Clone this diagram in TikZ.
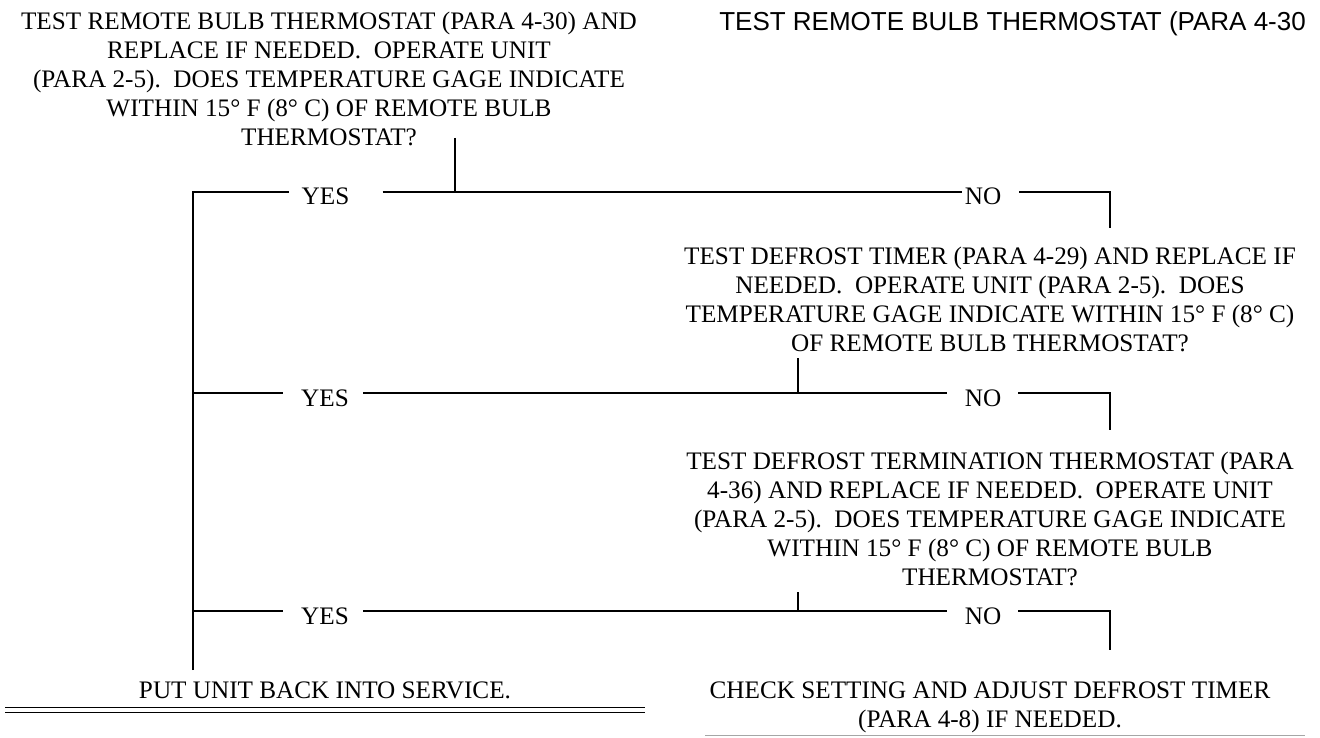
\documentclass[tikz,border=0pt]{standalone}
\usepackage{fontspec}
\setmainfont{Liberation Serif}
\newfontfamily\hdrfont{Liberation Sans}
\begin{document}
\begin{tikzpicture}[x=1pt,y=-1pt,
  txt/.style={font=\fontsize{25.2}{29}\selectfont, inner sep=0pt, align=center, anchor=north},
  lbl/.style={font=\fontsize{25.2}{29}\selectfont, inner sep=0pt, anchor=base},
  ln/.style={line width=2pt},
  rule/.style={line width=1.8pt},
]
\useasboundingbox (0,0) rectangle (1320,738);
\fill[white] (0,0) rectangle (1320,738);

% text blocks
\node[txt] (b1) at (329,11.5) {TEST REMOTE BULB THERMOSTAT (PARA 4-30) AND\\REPLACE IF NEEDED.\ \ OPERATE UNIT\\(PARA 2-5).\ \ DOES TEMPERATURE GAGE INDICATE\\WITHIN 15° F (8° C) OF REMOTE BULB\\THERMOSTAT?};
\node[anchor=base east, font=\hdrfont\fontsize{26}{30}\selectfont, inner sep=0pt] (hdr) at (1306,31) {TEST REMOTE BULB THERMOSTAT (PARA 4-30};
\node[txt] (b2) at (990,246.5) {TEST DEFROST TIMER (PARA 4-29) AND REPLACE IF\\NEEDED.\ \ OPERATE UNIT (PARA 2-5).\ \ DOES\\TEMPERATURE GAGE INDICATE WITHIN 15° F (8° C)\\OF REMOTE BULB THERMOSTAT?};
\node[txt] (b3) at (990,452) {TEST DEFROST TERMINATION THERMOSTAT (PARA\\4-36) AND REPLACE IF NEEDED.\ \ OPERATE UNIT\\(PARA 2-5).\ \ DOES TEMPERATURE GAGE INDICATE\\WITHIN 15° F (8° C) OF REMOTE BULB\\THERMOSTAT?};
\node[lbl] (put) at (325,698) {PUT UNIT BACK INTO SERVICE.};
\node[txt] (chk) at (990,681.5) {CHECK SETTING AND ADJUST DEFROST TIMER\\(PARA 4-8) IF NEEDED.};

% labels
\node[lbl] (yes1) at (325.5,205) {YES};
\node[lbl] (no1) at (983,205) {NO};
\node[lbl] (yes2) at (325,406) {YES};
\node[lbl] (no2) at (983,406) {NO};
\node[lbl] (yes3) at (325,624) {YES};
\node[lbl] (no3) at (983,624) {NO};

% coordinates
\coordinate (L1) at (193,192);
\coordinate (L2) at (193,393);
\coordinate (L3) at (193,611);
\coordinate (Lb) at (193,670);
\coordinate (t1) at (455,138);
\coordinate (j1) at (455,192);
\coordinate (t2) at (798,358);
\coordinate (j2) at (798,393);
\coordinate (t3) at (798,592);
\coordinate (j3) at (798,611);
\coordinate (c1) at (1110,192);
\coordinate (d1) at (1110,228);
\coordinate (c2) at (1110,393);
\coordinate (d2) at (1110,430);
\coordinate (c3) at (1110,611);
\coordinate (d3) at (1110,650);
\coordinate (r1a) at (5,707.5);
\coordinate (r1b) at (645,707.5);
\coordinate (r2a) at (5,712.5);
\coordinate (r2b) at (645,712.5);
\coordinate (g1) at (705,735);
\coordinate (g2) at (1305,735);

% left bracket
\draw[ln] (Lb) -- (L1) -- ([xshift=-12pt]yes1.west |- L1);
\draw[ln] (L2) -- ([xshift=-18pt]yes2.west |- L2);
\draw[ln] (L3) -- ([xshift=-18pt]yes3.west |- L3);

% row 1
\draw[ln] (t1) -- (j1);
\draw[ln] ([xshift=33pt]yes1.east |- L1) -- ([xshift=-3pt]no1.west |- L1);
\draw[ln] ([xshift=18pt]no1.east |- L1) -- (c1) -- (d1);

% row 2
\draw[ln] (t2) -- (j2);
\draw[ln] ([xshift=14pt]yes2.east |- L2) -- ([xshift=-18pt]no2.west |- L2);
\draw[ln] ([xshift=17pt]no2.east |- L2) -- (c2) -- (d2);

% row 3
\draw[ln] (t3) -- (j3);
\draw[ln] ([xshift=14pt]yes3.east |- L3) -- ([xshift=-18pt]no3.west |- L3);
\draw[ln] ([xshift=17pt]no3.east |- L3) -- (c3) -- (d3);

% bottom rules
\draw[rule] (r1a) -- (r1b);
\draw[rule] (r2a) -- (r2b);
\draw[gray!70, line width=1pt] (g1) -- (g2);
\end{tikzpicture}
\end{document}
